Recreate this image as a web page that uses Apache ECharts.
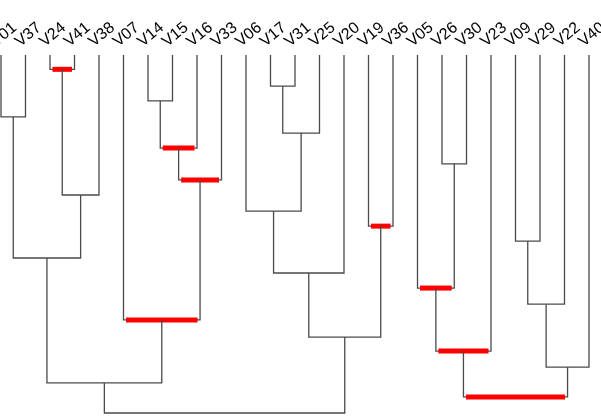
<!DOCTYPE html>
<html>
<head>
<meta charset="utf-8">
<script src="https://cdn.jsdelivr.net/npm/echarts@6/dist/echarts.min.js"></script>
<style>
  html, body { margin: 0; padding: 0; background: #fff; }
  #tree-card { width: 601px; height: 419px; }
</style>
</head>
<body>
<div id="tree-card"></div>
<script>
// leaf order along the top
const leaves = ["V01", "V37", "V24", "V41", "V38", "V07", "V14", "V15", "V16", "V33",
  "V06", "V17", "V31", "V25", "V20", "V19", "V36", "V05", "V26", "V30",
  "V23", "V09", "V29", "V22", "V40"];

// merges: left child, right child, height (m# = earlier merge)
const mergeLeft = ["V24", "V17", "V14", "V01", "m1", "m2", "V26", "m5", "m0", "V06", "V19", "V09",
  "m3", "m9", "V05", "m11", "V07", "m13", "m14", "m15", "m12", "m18", "m20"];
const mergeRight = ["V41", "V31", "V15", "V37", "V25", "V16", "V30", "V33", "V38", "m4", "V36", "V29",
  "m8", "V20", "m6", "V22", "m7", "m10", "V23", "V40", "m16", "m19", "m17"];
const mergeHeight = [4, 8.7, 12.8, 17.3, 21.8, 26, 30.4, 34.9, 39.1, 43.6, 47.8, 52,
  56.7, 60.9, 65.1, 69.6, 74, 78.8, 82.7, 87.2, 91.6, 95.5, 100];
const mergeRed = [1, 0, 0, 0, 0, 1, 0, 1, 0, 0, 1, 0,
  0, 0, 1, 0, 1, 0, 1, 0, 0, 1, 0];

// node position lookup (x = leaf index / mean of children, h = height)
const nodes = {};
leaves.forEach((name, i) => { nodes[name] = { x: i, h: 0 }; });
const segs = [];
mergeHeight.forEach((h, i) => {
  const a = nodes[mergeLeft[i]];
  const b = nodes[mergeRight[i]];
  nodes["m" + i] = { x: (a.x + b.x) / 2, h: h };
  segs.push([a.x, a.h, b.x, b.h, h, mergeRed[i]]);
});

const myChart = echarts.init(document.getElementById("tree-card"));
const option = {
  animation: false,
  grid: { left: 1, right: 12, top: 55, bottom: 6, outerBoundsMode: "none", containLabel: false },
  xAxis: {
    type: "value",
    min: 0,
    max: leaves.length - 1,
    show: false,
  },
  yAxis: {
    type: "value",
    inverse: true,
    min: 0,
    max: 100,
    show: false,
  },
  series: [{
    type: "custom",
    data: segs,
    clip: false,
    renderItem: (params, api) => {
      const p1 = api.coord([api.value(0), api.value(1)]);
      const p2 = api.coord([api.value(2), api.value(3)]);
      const m1 = api.coord([api.value(0), api.value(4)]);
      const m2 = api.coord([api.value(2), api.value(4)]);
      const children = [{
        type: "polyline",
        shape: { points: [p1, m1, m2, p2] },
        style: { stroke: "#4a4a4a", lineWidth: 1.3, fill: null },
      }];
      if (api.value(5)) {
        children.push({
          type: "line",
          shape: { x1: m1[0] + 2.5, y1: m1[1], x2: m2[0] - 2.5, y2: m2[1] },
          style: { stroke: "#ff0000", lineWidth: 5 },
        });
      }
      return { type: "group", children: children };
    },
  }, {
    // leaf labels, rotated above each leaf
    type: "custom",
    data: leaves.map((name, i) => [i, 0]),
    clip: false,
    renderItem: (params, api) => {
      const p = api.coord([api.value(0), api.value(1)]);
      return {
        type: "group",
        x: p[0] - 3,
        y: p[1] - 5,
        rotation: Math.PI * 40 / 180,
        children: [{
          type: "text",
          style: {
            text: leaves[params.dataIndex],
            x: 0,
            y: 0,
            align: "left",
            verticalAlign: "bottom",
            font: "16px 'Liberation Sans', Arial, sans-serif",
            fill: "#000",
          },
        }],
      };
    },
  }],
};
myChart.setOption(option);
</script>
</body>
</html>
